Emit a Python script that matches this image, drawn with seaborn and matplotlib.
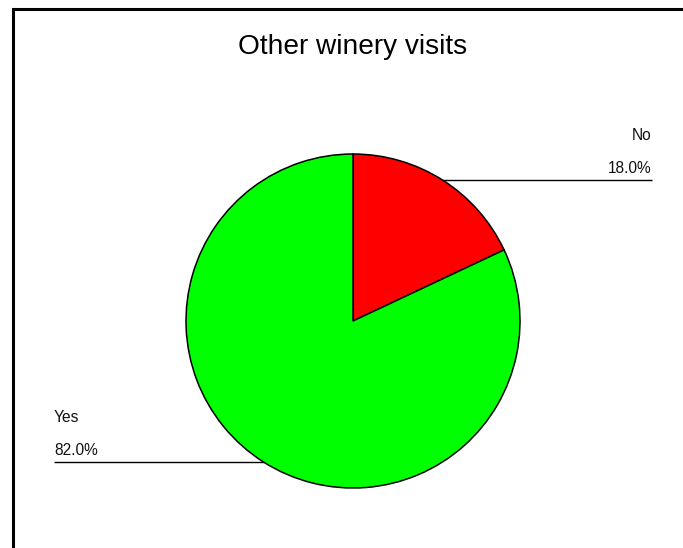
import numpy as np
import matplotlib
matplotlib.use("Agg")
import matplotlib.pyplot as plt
import seaborn as sns
from matplotlib.patches import Rectangle

sns.set_theme(style="white")
plt.rcParams['font.family'] = ['Liberation Sans', 'DejaVu Sans']

title = "Other winery visits"
categories = ["No", "Yes"]
values = [18.0, 82.0]
colors = ["#FF0000", "#00FF00"]

W, H = 683, 548
fig = plt.figure(figsize=(W / 100, H / 100), dpi=100)
fig.patch.set_facecolor("white")

# frame (left & top visible, right/bottom clipped)
fig.patches.append(Rectangle((13.0 / W, -0.2), 1.5, 1.2 - 8.5 / H,
                             transform=fig.transFigure, fill=False,
                             edgecolor="black", linewidth=2.2))

cx, cy, r = 353, 321, 167
ax = fig.add_axes([(cx - r) / W, (H - cy - r) / H, 2 * r / W, 2 * r / H])
wedges, _ = ax.pie(values, colors=colors, startangle=90, counterclock=False,
                   radius=1.0,
                   wedgeprops=dict(edgecolor="black", linewidth=1.1))
ax.set_xlim(-1, 1)
ax.set_ylim(-1, 1)
ax.set_axis_off()

# leader lines and labels
for w, cat, v in zip(wedges, categories, values):
    ang = np.deg2rad((w.theta1 + w.theta2) / 2)
    y = np.sin(ang)
    xe = np.sqrt(max(0.0, 1 - y * y))
    side = 1 if np.cos(ang) >= 0 else -1
    x_start = side * xe
    x_end = side * 1.79
    ax.plot([x_start, x_end], [y, y], color="black", linewidth=1.0,
            clip_on=False, solid_capstyle="butt")
    ha = "right" if side > 0 else "left"
    ax.annotate(f"{v:.1f}%", (x_end, y), xytext=(0, 5.0), textcoords="offset points",
                ha=ha, va="baseline", fontsize=11.2, color="#111111",
                annotation_clip=False)
    ax.annotate(cat, (x_end, y), xytext=(0, 28.8), textcoords="offset points",
                ha=ha, va="baseline", fontsize=11.2, color="#111111",
                annotation_clip=False)

fig.text(353 / W, 1 - 54 / H, title, ha="center", va="baseline",
         fontsize=20.2, color="black")

fig.savefig("out.png", dpi=100, facecolor="white")
